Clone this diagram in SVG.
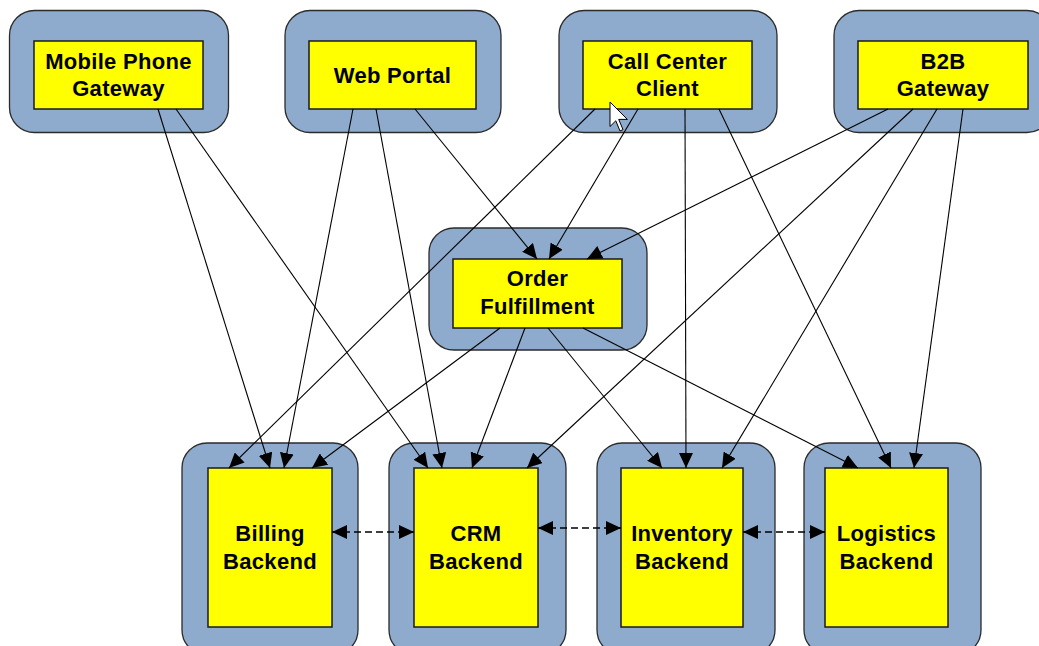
<svg xmlns="http://www.w3.org/2000/svg" width="1039" height="646" viewBox="0 0 1039 646">
  <style>
    .outer { fill: #8eaacc; stroke: #2b2b2b; stroke-width: 1.3; }
    .inner { fill: #ffff00; stroke: #1a1a1a; stroke-width: 1.5; }
    .label { font-family: "Liberation Sans", Arial, sans-serif; font-weight: bold; font-size: 22px; letter-spacing: 0.3px; fill: #000; text-anchor: middle; }
    .edge { fill: none; stroke: #000; stroke-width: 1.1; marker-end: url(#head); }
    .dash { fill: none; stroke: #000; stroke-width: 1.5; stroke-dasharray: 7 4; marker-start: url(#head); marker-end: url(#head); }
  </style>
  <defs>
    <marker id="head" markerUnits="userSpaceOnUse" markerWidth="15" markerHeight="14" refX="15" refY="7" orient="auto-start-reverse">
      <path d="M0,0 L15,7 L0,14 Z" fill="#000"/>
    </marker>
  </defs>
  <rect width="1039" height="646" fill="#ffffff"/>

  <!-- client tier -->
  <g id="mobile-phone-gateway">
    <rect class="outer" x="9.5" y="10.5" width="219" height="122" rx="25"/>
    <rect class="inner" x="34" y="41" width="169" height="68"/>
    <text class="label" x="118.5" y="68.5">Mobile Phone</text>
    <text class="label" x="118.5" y="95.5">Gateway</text>
  </g>
  <g id="web-portal">
    <rect class="outer" x="285" y="10.5" width="216" height="122" rx="25"/>
    <rect class="inner" x="309" y="41" width="167" height="68"/>
    <text class="label" x="392.5" y="83">Web Portal</text>
  </g>
  <g id="call-center-client">
    <rect class="outer" x="559" y="10.5" width="218" height="122" rx="25"/>
    <rect class="inner" x="583" y="41" width="169" height="68"/>
    <text class="label" x="667.5" y="68.5">Call Center</text>
    <text class="label" x="667.5" y="95.5">Client</text>
  </g>
  <g id="b2b-gateway">
    <rect class="outer" x="834" y="10.5" width="218" height="122" rx="25"/>
    <rect class="inner" x="858" y="41" width="170" height="68"/>
    <text class="label" x="943" y="68.5">B2B</text>
    <text class="label" x="943" y="95.5">Gateway</text>
  </g>

  <!-- middle tier -->
  <g id="order-fulfillment">
    <rect class="outer" x="429" y="228" width="218" height="122" rx="25"/>
    <rect class="inner" x="453" y="259" width="169" height="69"/>
    <text class="label" x="537.5" y="286">Order</text>
    <text class="label" x="537.5" y="314">Fulfillment</text>
  </g>

  <!-- backend tier -->
  <g id="billing-backend">
    <rect class="outer" x="182" y="443" width="176" height="212" rx="25"/>
    <rect class="inner" x="208" y="468" width="124" height="159"/>
    <text class="label" x="270" y="540.5">Billing</text>
    <text class="label" x="270" y="568.5">Backend</text>
  </g>
  <g id="crm-backend">
    <rect class="outer" x="389" y="443" width="177" height="212" rx="25"/>
    <rect class="inner" x="414" y="468" width="124" height="159"/>
    <text class="label" x="476" y="540.5">CRM</text>
    <text class="label" x="476" y="568.5">Backend</text>
  </g>
  <g id="inventory-backend">
    <rect class="outer" x="597" y="443" width="178" height="212" rx="25"/>
    <rect class="inner" x="621" y="468" width="122" height="159"/>
    <text class="label" x="682" y="540.5">Inventory</text>
    <text class="label" x="682" y="568.5">Backend</text>
  </g>
  <g id="logistics-backend">
    <rect class="outer" x="804" y="443" width="177" height="212" rx="25"/>
    <rect class="inner" x="825" y="468" width="123" height="159"/>
    <text class="label" x="886.5" y="540.5">Logistics</text>
    <text class="label" x="886.5" y="568.5">Backend</text>
  </g>

  <!-- connectors -->
  <g id="connectors">
    <path class="edge" d="M158,109 L270,468"/>
    <path class="edge" d="M176,109 L428,468"/>
    <path class="edge" d="M353,109 L284,468"/>
    <path class="edge" d="M376,109 L442,468"/>
    <path class="edge" d="M415,109 L537,259"/>
    <path class="edge" d="M595,109 L229,468"/>
    <path class="edge" d="M638,109 L549,259"/>
    <path class="edge" d="M685,109 L686,468"/>
    <path class="edge" d="M719,109 L891,468"/>
    <path class="edge" d="M888,109 L587,259"/>
    <path class="edge" d="M913,109 L527,468"/>
    <path class="edge" d="M937,109 L722,468"/>
    <path class="edge" d="M963,109 L914,468"/>
    <path class="edge" d="M500,328 L312,468"/>
    <path class="edge" d="M525,328 L472,468"/>
    <path class="edge" d="M548,328 L662,468"/>
    <path class="edge" d="M583,328 L858,468"/>
    <path class="dash" d="M332,532 L414,532"/>
    <path class="dash" d="M538,528 L621,528"/>
    <path class="dash" d="M743,532 L825,532"/>
  </g>

  <!-- mouse pointer -->
  <g id="pointer">
    <polygon points="610,102 610,126.5 615.8,120.8 620,131 623,129.6 618.7,119.4 627.4,119.4" fill="#ffffff" stroke="#000" stroke-width="1" stroke-linejoin="miter"/>
  </g>
</svg>
